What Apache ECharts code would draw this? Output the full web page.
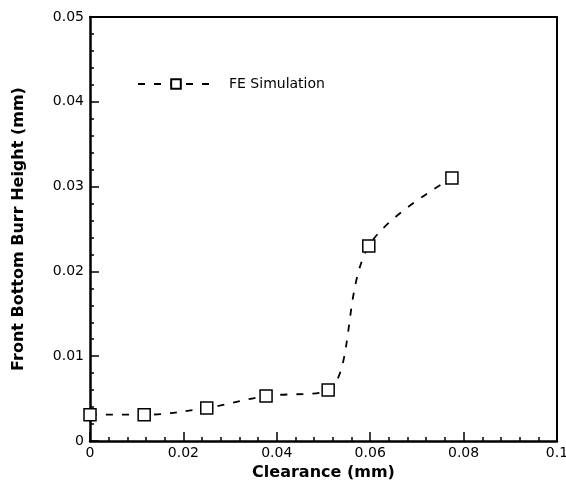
<!DOCTYPE html>
<html>
<head>
<meta charset="utf-8">
<script src="https://cdn.jsdelivr.net/npm/echarts@6/dist/echarts.min.js"></script>
<style>
  html, body { margin: 0; padding: 0; background: #fff; }
  #chart { width: 566px; height: 487px; }
</style>
</head>
<body>
<div id="chart"></div>
<script>
const clearance = [0, 0.0116, 0.025, 0.0377, 0.051, 0.0597, 0.0775];
const burrHeight = [0.0031, 0.0031, 0.0039, 0.0053, 0.006, 0.023, 0.031];
const seriesName = 'FE Simulation';

const chart = echarts.init(document.getElementById('chart'));

const font = 'DejaVu Sans, Verdana, sans-serif';

// top / right frame lines
const boxAxis = {
  axisLine: { show: true, onZero: false, lineStyle: { color: '#000', width: 2 } },
  axisTick: { show: false },
  axisLabel: { show: false },
  splitLine: { show: false }
};

chart.setOption({
  animation: false,
  grid: { left: 90, right: 9, top: 17, bottom: 46, outerBoundsMode: 'none' },
  legend: {
    left: 132,
    top: 72,
    itemWidth: 76,
    itemHeight: 12,
    textStyle: { fontFamily: font, fontSize: 14, color: '#000', padding: [0, 0, 0, 10] },
    data: [seriesName]
  },
  xAxis: [{
    type: 'value',
    min: 0,
    max: 0.1,
    interval: 0.02,
    name: 'Clearance (mm)',
    nameLocation: 'middle',
    nameGap: 24,
    nameTextStyle: { fontFamily: font, fontSize: 16, fontWeight: 'bold', color: '#000' },
    axisLine: { onZero: false, lineStyle: { color: '#000', width: 2.5 } },
    axisTick: { inside: true, length: 9, lineStyle: { color: '#000', width: 1.5 } },
    minorTick: { show: true, splitNumber: 5, length: 4, lineStyle: { color: '#000', width: 1.5 } },
    axisLabel: { fontFamily: font, fontSize: 14, color: '#000', margin: 5 },
    splitLine: { show: false }
  }, Object.assign({ type: 'value', position: 'top', min: 0, max: 0.1 }, boxAxis)],
  yAxis: [{
    type: 'value',
    min: 0,
    max: 0.05,
    interval: 0.01,
    name: 'Front Bottom Burr Height (mm)',
    nameLocation: 'middle',
    nameGap: 63,
    nameTextStyle: { fontFamily: font, fontSize: 16, fontWeight: 'bold', color: '#000' },
    axisLine: { onZero: false, lineStyle: { color: '#000', width: 2.5 } },
    axisTick: { inside: true, length: 9, lineStyle: { color: '#000', width: 1.5 } },
    minorTick: { show: true, splitNumber: 5, length: 4, lineStyle: { color: '#000', width: 1.5 } },
    axisLabel: { fontFamily: font, fontSize: 14, color: '#000', margin: 6 },
    splitLine: { show: false }
  }, Object.assign({ type: 'value', position: 'right', min: 0, max: 0.05 }, boxAxis)],
  series: [{
    name: seriesName,
    type: 'line',
    data: clearance.map((x, i) => [x, burrHeight[i]]),
    smooth: 0.35,
    symbol: 'rect',
    symbolSize: 12,
    lineStyle: { color: '#000', width: 1.8, type: [7, 9] },
    itemStyle: { color: '#fff', borderColor: '#000', borderWidth: 1.5 },
    clip: false
  }]
});
</script>
</body>
</html>
